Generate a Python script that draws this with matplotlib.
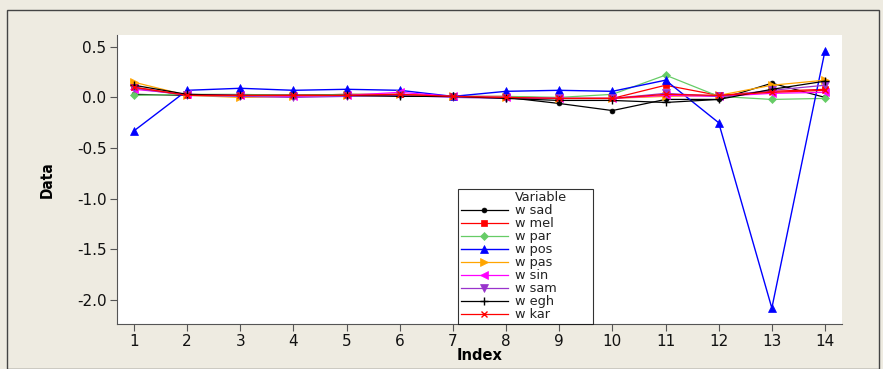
import matplotlib
matplotlib.use("Agg")
import matplotlib.pyplot as plt
from matplotlib.patches import Rectangle
from matplotlib.lines import Line2D

index = list(range(1, 15))
w_sad = [0.03, 0.02, 0.02, 0.02, 0.02, 0.02, 0.01, 0.00, -0.06, -0.13, -0.02, -0.02, 0.14, 0.00]
w_mel = [0.10, 0.02, 0.02, 0.02, 0.03, 0.03, 0.01, 0.01, -0.01, -0.01, 0.12, 0.02, 0.06, 0.08]
w_par = [0.02, 0.03, 0.03, 0.02, 0.03, 0.03, 0.01, 0.01, 0.00, 0.03, 0.22, 0.01, -0.02, -0.01]
w_pos = [-0.33, 0.07, 0.09, 0.07, 0.08, 0.07, 0.01, 0.06, 0.07, 0.06, 0.17, -0.25, -2.08, 0.46]
w_pas = [0.15, 0.02, 0.00, 0.01, 0.02, 0.03, 0.01, 0.00, -0.01, -0.01, 0.01, 0.02, 0.12, 0.17]
w_sin = [0.08, 0.03, 0.02, 0.01, 0.02, 0.05, 0.01, 0.00, -0.01, -0.01, 0.02, 0.01, 0.04, 0.05]
w_sam = [0.09, 0.02, 0.01, 0.00, 0.01, 0.02, 0.00, -0.01, -0.01, -0.01, 0.04, 0.01, 0.07, 0.12]
w_egh = [0.12, 0.03, 0.02, 0.02, 0.02, 0.01, 0.01, -0.01, -0.03, -0.03, -0.05, -0.02, 0.08, 0.16]
w_kar = [0.10, 0.02, 0.02, 0.02, 0.02, 0.03, 0.01, 0.00, -0.01, -0.01, 0.03, 0.02, 0.05, 0.07]

names = ["w sad", "w mel", "w par", "w pos", "w pas", "w sin", "w sam", "w egh", "w kar"]
series = [w_sad, w_mel, w_par, w_pos, w_pas, w_sin, w_sam, w_egh, w_kar]
colors = ["black", "#FF0000", "#66CC66", "#0000FF", "#FFA500", "#FF00FF", "#9933CC", "black", "#FF0000"]
markers = ["o", "s", "D", "^", ">", "<", "v", "+", "x"]
msizes = [3.5, 5, 4.5, 6, 6, 6, 6, 6, 5]
lws = [0.9, 0.9, 0.9, 1.0, 0.9, 0.9, 0.9, 0.9, 0.9]

bg = "#EEEBE1"
fig = plt.figure(figsize=(8.83, 3.69), dpi=100, facecolor=bg)
fig.patches.append(Rectangle((7/883, 0), (879-7)/883, (369-10)/369, transform=fig.transFigure,
                             fill=False, edgecolor="#444444", linewidth=1.0))
ax = fig.add_axes([117/883, 1 - 324/369, (842-117)/883, (324-35)/369])
ax.set_facecolor("white")

handles = [Line2D([], [], color="none")]
labels = ["Variable"]
for name, vals, c, m, ms, lw in zip(names, series, colors, markers, msizes, lws):
    h, = ax.plot(index, vals, color=c, marker=m, markersize=ms, linewidth=lw, label=name,
                 markeredgewidth=1.0 if m in "+x" else 0.5)
    handles.append(h)
    labels.append(name)

ax.set_xlim(0.68, 14.32)
ax.set_ylim(-2.237, 0.616)
ax.set_xticks(index)
ax.set_yticks([0.5, 0.0, -0.5, -1.0, -1.5, -2.0])
ax.set_yticklabels(["0.5", "0.0", "-0.5", "-1.0", "-1.5", "-2.0"])
ax.tick_params(labelsize=11, colors="#111111", length=5, color="#555555", pad=2.5)
for s in ["top", "right"]:
    ax.spines[s].set_visible(False)
for s in ["left", "bottom"]:
    ax.spines[s].set_color("#555555")
ax.set_xlabel("Index", fontsize=10.5, fontweight="bold", labelpad=-1)
ax.set_ylabel("Data", fontsize=11, fontweight="bold", fontstretch="condensed", labelpad=16)

x0 = (458 - 117) / 725
w = (593 - 458) / 725
leg = ax.legend(handles, labels, loc="lower left", bbox_to_anchor=(x0, 0.0, w, 0.5), mode="expand",
                fontsize=9.3, frameon=True, fancybox=False,
                edgecolor="black", borderpad=0.2, labelspacing=0.0, handlelength=3.7,
                handletextpad=0.5, borderaxespad=0.0)
leg.get_frame().set_linewidth(0.8)
for t in leg.get_texts():
    t.set_color("#222222")

fig.savefig("out.png", dpi=100, facecolor=bg)
